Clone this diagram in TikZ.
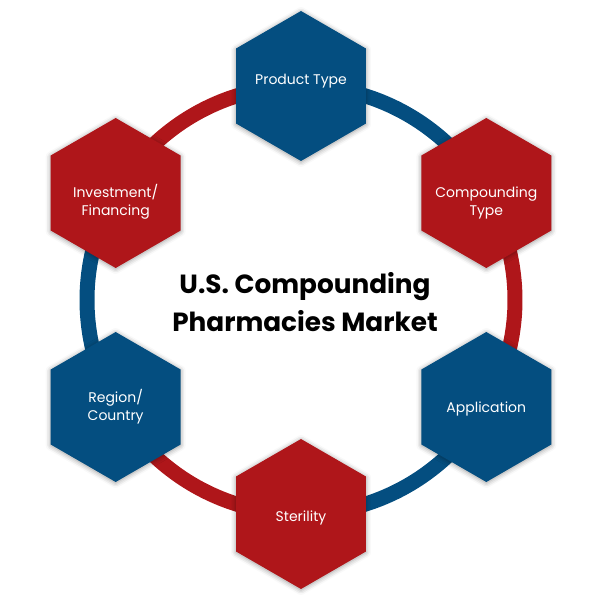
\documentclass[tikz,border=0pt]{standalone}
\usepackage{fontspec}
\setmainfont{Poppins}
\usetikzlibrary{shapes.geometric,backgrounds,shadows.blur}
\definecolor{segBlue}{RGB}{4,78,128}
\definecolor{segRed}{RGB}{175,22,26}
\tikzset{
  hexa/.style={regular polygon, regular polygon sides=6, shape border rotate=30, minimum size=150pt, inner sep=0pt,
    blur shadow={shadow xshift=0pt, shadow yshift=-1pt, shadow blur radius=5pt, shadow opacity=40}},
  bluehex/.style={hexa, fill=segBlue},
  redhex/.style={hexa, fill=segRed},
  lbl/.style={align=center, text=white, font=\fontsize{14}{18}\selectfont},
  ring/.style={line width=15pt},
  title/.style={align=center, font=\bfseries\fontsize{26.3}{38}\selectfont}
}

\begin{document}
\begin{tikzpicture}[x=1pt,y=1pt]
  \useasboundingbox (-301,-300) rectangle (299,300);

  % segments, clockwise from the top
  \node[bluehex, label={[lbl,yshift=5]center:Product Type}] (prod) at (90:214) {};
  \node[redhex, label={[lbl,yshift=-10]center:Compounding\\Type}] (comp) at (30:214) {};
  \node[bluehex, label={[lbl,yshift=-2]center:Application}] (appl) at (-30:214) {};
  \node[redhex, label={[lbl,yshift=-4]center:Sterility}] (ster) at (-90:214) {};
  \node[bluehex, label={[lbl]center:Region/\\Country}] (regn) at (-150:214) {};
  \node[redhex, label={[lbl,yshift=-9]center:Investment/\\Financing}] (invest) at (150:214) {};

  \node[title] (market) at (4,-2) {U.S. Compounding\\Pharmacies Market};

  % ring behind the hexagons
  \begin{scope}[on background layer]
    \draw[ring, segBlue] (prod.center) arc[start angle=90, end angle=30, radius=214];
    \draw[ring, segRed] (comp.center) arc[start angle=30, end angle=-30, radius=214];
    \draw[ring, segBlue] (appl.center) arc[start angle=-30, end angle=-90, radius=214];
    \draw[ring, segRed] (ster.center) arc[start angle=-90, end angle=-150, radius=214];
    \draw[ring, segBlue] (regn.center) arc[start angle=-150, end angle=-210, radius=214];
    \draw[ring, segRed] (invest.center) arc[start angle=150, end angle=90, radius=214];
  \end{scope}
\end{tikzpicture}
\end{document}
